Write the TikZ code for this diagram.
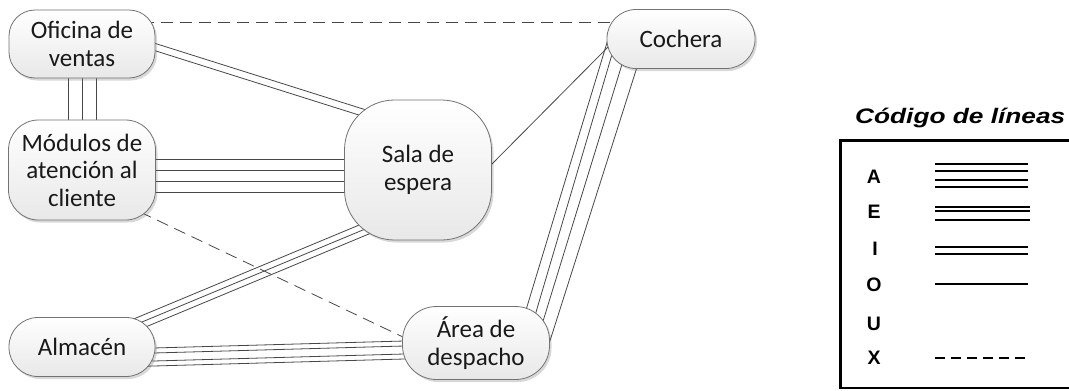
\documentclass[tikz,border=0pt]{standalone}
\usepackage{fontspec}
\setmainfont{Carlito}
\newfontfamily\legfont{Liberation Sans}
\usetikzlibrary{calc,shadows,backgrounds}
\newcommand{\multilink}[3]{%
  \foreach \off in {#3}{%
    \draw[link] ($(#1)!\off pt!90:(#2)$) -- ($(#2)!\off pt!-90:(#1)$);}}
\begin{document}
\begin{tikzpicture}[x=1pt,y=-1pt,
  box/.style={draw=black!55, line width=0.8pt, rounded corners=#1,
    top color=white, bottom color=black!9,
    drop shadow={shadow xshift=2pt, shadow yshift=-2.5pt, opacity=0.25, fill=black!60},
    align=center, text=black!90, font=\fontsize{25}{27.5}\selectfont, inner sep=0pt},
  link/.style={draw=black!72, line width=0.8pt},
  xlink/.style={draw=black!72, line width=0.8pt, dash pattern=on 12pt off 7pt},
  lett/.style={font=\legfont\bfseries\fontsize{19.5}{19.5}\selectfont, inner sep=0pt},
  leg/.style={draw=black, line width=1.5pt},
]
\useasboundingbox (0,0) rectangle (1069,391);
\clip (0,0) rectangle (1069,391);

% nodes
\node[box=26pt, minimum width=146pt, minimum height=68pt] (of) at (82,44) {Oficina de\\ventas};
\node[box=30pt, minimum width=147pt, minimum height=100pt] (mod) at (82,170) {Módulos de\\atención al\\cliente};
\node[box=50pt, minimum width=147pt, minimum height=140pt] (sala) at (418,170) {Sala de\\espera};
\node[box=29pt, minimum width=148pt, minimum height=59pt] (coch) at (681,39) {Cochera};
\node[box=29pt, minimum width=146pt, minimum height=59pt] (alm) at (82,347) {Almacén};
\node[box=34pt, minimum width=147pt, minimum height=73pt] (area) at (476,343) {Área de\\despacho};

\begin{pgfonlayer}{background}
  \fill[white] (0,0) rectangle (1069,391);
  % Oficina - Modulos (E)
  \multilink{of.center}{mod.center}{-14,0,14}
  % Modulos - Sala (A)
  \coordinate (m1) at ($(mod.center)+(0,5.5)$);
  \coordinate (s1) at ($(sala.center)+(0,5.5)$);
  \multilink{m1}{s1}{-16.5,-5.5,5.5,16.5}
  % Oficina - Sala (I)
  \coordinate (o2) at ($(of.center)+(0,-20)$);
  \coordinate (s2) at ($(sala.center)+(0,-40)$);
  \multilink{o2}{s2}{-3.5,3.5}
  % Sala - Almacen (E)
  \coordinate (s3) at ($(sala.center)+(0,37)$);
  \multilink{alm.center}{s3}{-6,0,6}
  % Almacen - Area (A)
  \coordinate (a4) at ($(alm.center)+(0,12)$);
  \coordinate (r4) at ($(area.center)+(0,5)$);
  \multilink{a4}{r4}{-9,-4,4,9}
  % Sala - Cochera (O)
  \draw[link] ($(sala.center)+(70,-2)$) -- ($(coch.center)+(-70,5)$);
  % Cochera - Area (A)
  \draw[link] ($(coch.center)+(-72,-3)$) -- ($(area.center)+(50,-33)$);
  \draw[link] ($(coch.center)+(-68,12)$) -- ($(area.center)+(58,-24)$);
  \draw[link] ($(coch.center)+(-58,22)$) -- ($(area.center)+(64,-12)$);
  \draw[link] ($(coch.center)+(-43,25)$) -- ($(area.center)+(72,4)$);
  % X links
  \draw[xlink] ($(of.center)+(60,-22)$) -- ($(coch.center)+(-60,-17)$);
  \draw[xlink] ($(mod.center)+(58,42)$) -- ($(area.center)+(-73,-6)$);
\end{pgfonlayer}

% legend
\node[font=\legfont\bfseries\itshape\fontsize{21}{21}\selectfont, anchor=base west, inner sep=0pt] (title) at (855,123) {\scalebox{1.25}[1]{Código de líneas}};
\draw[line width=1.2pt] (840,140) rectangle (1090,388);
\draw[line width=3pt] (840,389) -- (840,140) -- (1090,140);
\node[lett] (lA) at (874,176.5) {A};
\node[lett] (lE) at (874,211.5) {E};
\node[lett] (lI) at (875,248.5) {I};
\node[lett] (lO) at (874,285) {O};
\node[lett] (lU) at (874,323.5) {U};
\node[lett] (lX) at (874,357.5) {X};
\foreach \yy in {164,171,180,187} \draw[leg] (935,\yy) -- (1028,\yy);
\foreach \yy in {207,211,220} \draw[leg] (935,\yy) -- (1030,\yy);
\foreach \yy in {247,254} \draw[leg] (935,\yy) -- (1028,\yy);
\draw[leg] (935,284) -- (1028,284);
\draw[leg, dash pattern=on 10pt off 6pt] (935,358) -- (1028,358);
\end{tikzpicture}
\end{document}
